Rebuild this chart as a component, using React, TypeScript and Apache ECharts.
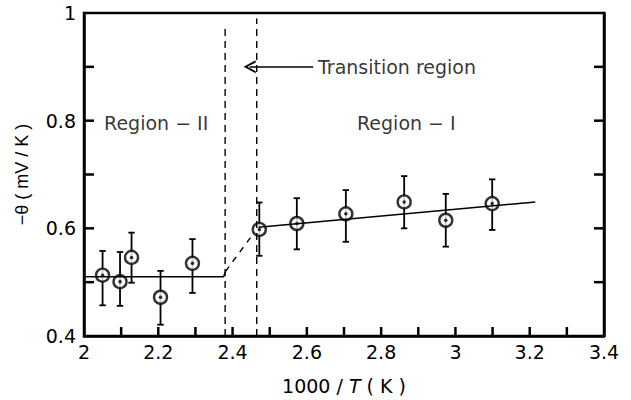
import React, { useEffect, useRef } from "react";
import * as echarts from "echarts";

// 1000/T values (K^-1 x 1000)
const xValues = [2.05, 2.097, 2.128, 2.206, 2.292, 2.472, 2.573, 2.705, 2.862, 2.974, 3.099];
// -theta (mV/K)
const yValues = [0.513, 0.501, 0.546, 0.472, 0.535, 0.598, 0.609, 0.627, 0.649, 0.615, 0.646];
const upperValues = [0.558, 0.556, 0.592, 0.521, 0.58, 0.648, 0.656, 0.671, 0.697, 0.664, 0.691];
const lowerValues = [0.457, 0.456, 0.499, 0.421, 0.48, 0.549, 0.561, 0.575, 0.6, 0.566, 0.597];

// fitted lines
const fitRegionII = [[2.0, 0.51], [2.376, 0.51], [2.381, 0.52]];
const fitTransition = [[2.381, 0.52], [2.458, 0.592]];
const fitRegionI = [[2.47, 0.602], [3.215, 0.649]];

// transition boundaries
const boundaryA = [[2.38, 0.4], [2.38, 0.976]];
const boundaryB = [[2.465, 0.4], [2.465, 0.99]];

// annotation anchors
const transitionArrow = [[2.617, 0.9], [2.446, 0.9]];
const annotations: [number, number, string][] = [
  [2.63, 0.9, "Transition region"],
  [2.054, 0.795, "Region \u2212 II"],
  [2.735, 0.795, "Region \u2212 I"],
];

// tick marks
const xTickValues = [2.1, 2.2, 2.3, 2.4, 2.5, 2.6, 2.7, 2.8, 2.9, 3.0, 3.1, 3.2, 3.3];
const yTickValues = [0.5, 0.6, 0.7, 0.8, 0.9];

const xTicks = { min: 2, max: 3.4, interval: 0.1 };
const yTicks = { min: 0.4, max: 1, interval: 0.1 };

const FONT = "'Liberation Sans', Arial, Helvetica, sans-serif";
const WIDE = "'DejaVu Sans', 'Liberation Sans', sans-serif";

export default function App() {
  const ref = useRef<HTMLDivElement>(null);

  useEffect(() => {
    if (!ref.current) return;
    const chart = echarts.init(ref.current, null, { renderer: "svg" });

    const points = xValues.map((x, i) => [x, yValues[i]]);
    const bars = xValues.map((x, i) => [x, lowerValues[i], upperValues[i]]);

    const evenLabel = (v: number) => {
      const k = Math.round(v * 10);
      return k % 2 === 0 ? String(k / 10) : "";
    };

    const chevron = "path://M5,0 L10,10 L8.4,10 L5,3.2 L1.6,10 L0,10 Z";

    const axisLine = { show: true, lineStyle: { color: "#000", width: 2.5 } };
    const tickStroke = { stroke: "#000", lineWidth: 2.5 };

    chart.setOption({
      animation: false,
      backgroundColor: "#fff",
      textStyle: { fontFamily: FONT, color: "#000" },
      grid: {
        left: 84,
        right: 27,
        top: 13,
        bottom: 63,
        show: true,
        borderColor: "#000",
        borderWidth: 2.5,
        backgroundColor: "transparent",
      },
      xAxis: [
        {
          type: "value",
          ...xTicks,
          axisLine,
          axisTick: { show: false },
          splitLine: { show: false },
          axisLabel: {
            formatter: evenLabel,
            color: "#000",
            fontSize: 19,
            fontFamily: WIDE,
            margin: 6,
            showMinLabel: true,
            showMaxLabel: true,
          },
          name: "1000 / {i|T} ( K )",
          nameLocation: "middle",
          nameGap: 40,
          nameTextStyle: {
            fontSize: 19,
            fontFamily: WIDE,
            color: "#000",
            rich: { i: { fontStyle: "italic", fontSize: 19, fontFamily: WIDE, color: "#000" } },
          },
        },
      ],
      yAxis: [
        {
          type: "value",
          ...yTicks,
          axisLine,
          axisTick: { show: false },
          splitLine: { show: false },
          axisLabel: {
            formatter: evenLabel,
            color: "#000",
            fontSize: 19,
            fontFamily: WIDE,
            margin: 8,
            showMinLabel: true,
            showMaxLabel: true,
          },
          name: "\u2212\u03b8 ( mV / K )",
          nameLocation: "middle",
          nameGap: 53,
          nameTextStyle: { fontSize: 18, fontFamily: FONT, color: "#000" },
        },
        {
          type: "value",
          position: "right",
          ...yTicks,
          axisLine,
          axisTick: { show: false },
          splitLine: { show: false },
          axisLabel: { show: false },
        },
      ],
      series: [
        {
          type: "custom",
          silent: true,
          data: xTickValues.map((v) => [v, yTicks.min]),
          renderItem: (params: any, api: any) => {
            const p = api.coord([api.value(0), yTicks.min]);
            return { type: "line", shape: { x1: p[0], y1: p[1], x2: p[0], y2: p[1] - 9 }, style: tickStroke };
          },
        },
        {
          type: "custom",
          silent: true,
          data: yTickValues.map((v) => [xTicks.min, v]),
          renderItem: (params: any, api: any) => {
            const l = api.coord([xTicks.min, api.value(1)]);
            const r = api.coord([xTicks.max, api.value(1)]);
            return {
              type: "group",
              children: [
                { type: "line", shape: { x1: l[0], y1: l[1], x2: l[0] + 10, y2: l[1] }, style: tickStroke },
                { type: "line", shape: { x1: r[0], y1: r[1], x2: r[0] - 10, y2: r[1] }, style: tickStroke },
              ],
            };
          },
        },
        {
          type: "line",
          data: boundaryA,
          symbol: "none",
          silent: true,
          lineStyle: { color: "#000", width: 1.4, type: [7, 5] },
        },
        {
          type: "line",
          data: boundaryB,
          symbol: "none",
          silent: true,
          lineStyle: { color: "#000", width: 1.4, type: [7, 5] },
        },
        {
          type: "line",
          data: fitRegionII,
          symbol: "none",
          silent: true,
          lineStyle: { color: "#000", width: 1.6 },
        },
        {
          type: "line",
          data: fitTransition,
          symbol: "none",
          silent: true,
          lineStyle: { color: "#000", width: 1.4, type: [6, 6] },
        },
        {
          type: "line",
          data: fitRegionI,
          symbol: "none",
          silent: true,
          lineStyle: { color: "#000", width: 1.6 },
        },
        {
          type: "custom",
          silent: true,
          data: bars,
          encode: { x: 0, y: [1, 2] },
          renderItem: (params: any, api: any) => {
            const x = api.value(0);
            const lo = api.coord([x, api.value(1)]);
            const hi = api.coord([x, api.value(2)]);
            const w = 3.2;
            const st = { stroke: "#000", lineWidth: 1.8 };
            return {
              type: "group",
              children: [
                { type: "line", shape: { x1: lo[0], y1: lo[1], x2: hi[0], y2: hi[1] }, style: st },
                { type: "line", shape: { x1: lo[0] - w, y1: lo[1], x2: lo[0] + w, y2: lo[1] }, style: st },
                { type: "line", shape: { x1: hi[0] - w, y1: hi[1], x2: hi[0] + w, y2: hi[1] }, style: st },
              ],
            };
          },
        },
        {
          type: "scatter",
          data: points,
          symbol: "circle",
          symbolSize: 13,
          silent: true,
          itemStyle: { color: "#fff", borderColor: "#000", borderWidth: 2.4 },
        },
        {
          type: "scatter",
          data: points,
          symbol: "circle",
          symbolSize: 3.5,
          silent: true,
          itemStyle: { color: "#000" },
        },
        {
          type: "scatter",
          data: annotations.map((a) => [a[0], a[1], a[2]]),
          symbolSize: 0,
          silent: true,
          label: {
            show: true,
            position: "right",
            distance: 0,
            formatter: (p: any) => p.data[2],
            color: "#000",
            fontSize: 19,
            fontFamily: WIDE,
          },
          markLine: {
            silent: true,
            symbol: ["none", chevron],
            symbolSize: [13, 12],
            label: { show: false },
            lineStyle: { color: "#000", width: 1.5, type: "solid" },
            data: [[{ coord: transitionArrow[0] }, { coord: transitionArrow[1] }]],
          },
        },
      ],
    });

    return () => chart.dispose();
  }, []);

  return <div ref={ref} style={{ width: 631, height: 400, position: "absolute", left: 0, top: 0 }} />;
}
